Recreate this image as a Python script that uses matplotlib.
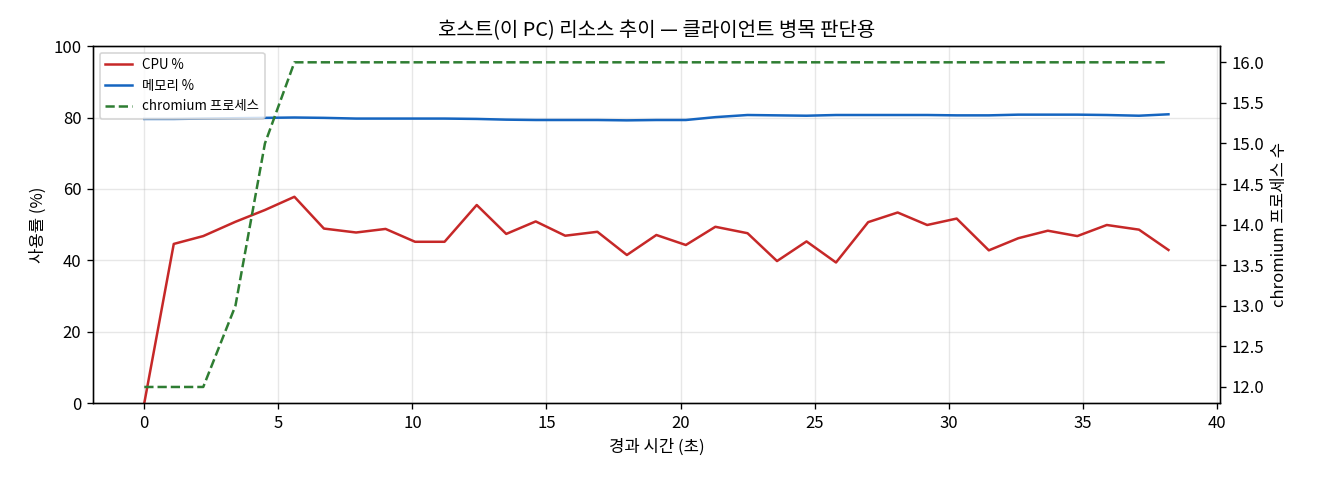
import matplotlib
matplotlib.use("Agg")
import matplotlib.pyplot as plt

plt.rcParams['font.family'] = ['Noto Sans CJK KR', 'DejaVu Sans']

# 경과 시간 (초)
elapsed = [0.0, 1.1, 2.2, 3.4, 4.5, 5.6, 6.7, 7.9, 9.0, 10.1, 11.2, 12.4,
           13.5, 14.6, 15.7, 16.9, 18.0, 19.1, 20.2, 21.3, 22.5, 23.6, 24.7,
           25.8, 27.0, 28.1, 29.2, 30.3, 31.5, 32.6, 33.7, 34.8, 35.9, 37.1, 38.2]

cpu_pct = [0.0, 44.6, 46.8, 50.8, 54.1, 57.8, 48.9, 47.8, 48.8, 45.2, 45.2,
           55.5, 47.4, 50.9, 46.9, 48.0, 41.5, 47.1, 44.3, 49.4, 47.6, 39.8,
           45.3, 39.4, 50.7, 53.4, 49.9, 51.7, 42.8, 46.2, 48.3, 46.8, 49.9,
           48.6, 42.9]

mem_pct = [79.6, 79.6, 79.7, 79.8, 79.9, 80.0, 79.9, 79.7, 79.7, 79.7, 79.7,
           79.6, 79.4, 79.3, 79.3, 79.3, 79.2, 79.3, 79.3, 80.1, 80.7, 80.6,
           80.5, 80.7, 80.7, 80.7, 80.7, 80.6, 80.6, 80.8, 80.8, 80.8, 80.7,
           80.5, 80.9]

chromium_procs = [12, 12, 12, 13, 15, 16, 16, 16, 16, 16, 16, 16, 16, 16, 16,
                  16, 16, 16, 16, 16, 16, 16, 16, 16, 16, 16, 16, 16, 16, 16,
                  16, 16, 16, 16, 16]

fig, ax = plt.subplots(figsize=(11, 4), dpi=120)
fig.subplots_adjust(left=0.0705, right=0.924, top=0.904, bottom=0.16)

l1, = ax.plot(elapsed, cpu_pct, color='#c62828', linewidth=1.5, label='CPU %')
l2, = ax.plot(elapsed, mem_pct, color='#1565c0', linewidth=1.5, label='메모리 %')
ax.set_ylim(0, 100)
ax.set_xlabel('경과 시간 (초)')
ax.set_ylabel('사용률 (%)')
ax.grid(True, alpha=0.3)

ax2 = ax.twinx()
l3, = ax2.plot(elapsed, chromium_procs, color='#2e7d32', linewidth=1.5,
               linestyle='--', label='chromium 프로세스')
ax2.set_ylabel('chromium 프로세스 수')

ax.legend(handles=[l1, l2, l3], loc='upper left', fontsize=8)
ax.set_title('호스트(이 PC) 리소스 추이 — 클라이언트 병목 판단용')

fig.savefig('out.png')
